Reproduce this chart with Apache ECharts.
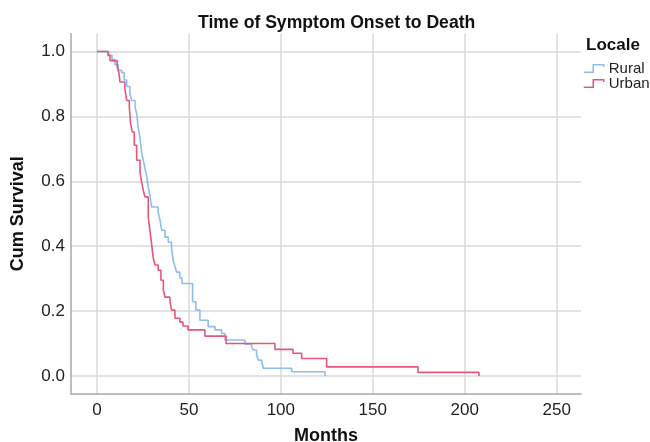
<!DOCTYPE html>
<html>
<head>
<meta charset="utf-8">
<script src="https://cdn.jsdelivr.net/npm/echarts@6/dist/echarts.min.js"></script>
<style>
    html, body {margin: 0; padding: 0; background: #fff;}
    #chart {width: 650px; height: 442px;}
</style>
</head>
<body>
<div id="chart"></div>
<script>
// 数据部分（从图上读出的生存曲线阶梯点）
var urbanMonths = [0, 6.0, 7.1, 11.0, 12.0, 12.5, 15.2, 16.2, 17.6, 18.3, 19.2, 20.3, 21.6, 23.4, 24.3, 25.2, 26.1, 27.9, 28.8, 29.7,
    30.5, 31.5, 33.3, 34.8, 36.1, 37.0, 39.7, 40.6, 42.4, 45.1, 46.8, 49.5, 58.7, 70.2, 96.8, 106.6, 111.3, 124.9, 174.6, 207.7];
var urbanSurv = [1.0, 0.988, 0.972, 0.954, 0.932, 0.906, 0.886, 0.849, 0.829, 0.778, 0.752, 0.711, 0.665, 0.629, 0.598, 0.572, 0.552, 0.490, 0.449, 0.408,
    0.367, 0.342, 0.326, 0.295, 0.265, 0.243, 0.229, 0.203, 0.178, 0.166, 0.154, 0.142, 0.123, 0.100, 0.082, 0.070, 0.054, 0.028, 0.011, 0.0];

var ruralMonths = [0, 6.5, 8.2, 9.8, 11.6, 13.4, 14.8, 16.2, 17.9, 18.9, 20.7, 21.6, 22.5, 23.4, 24.3, 25.2, 26.1, 27.0, 27.9, 28.8,
    29.7, 33.3, 34.3, 35.2, 37.0, 38.8, 40.6, 41.4, 42.4, 43.3, 45.1, 46.2, 52.0, 53.8, 56.0, 60.5, 64.2, 67.8, 69.6, 80.5,
    84.1, 85.0, 86.8, 87.7, 89.6, 90.4, 105.9, 124.0];
var ruralSurv = [1.0, 0.988, 0.975, 0.960, 0.942, 0.935, 0.912, 0.892, 0.870, 0.849, 0.829, 0.809, 0.763, 0.735, 0.689, 0.665, 0.640, 0.618, 0.582, 0.557,
    0.521, 0.505, 0.480, 0.449, 0.428, 0.412, 0.394, 0.357, 0.338, 0.320, 0.302, 0.285, 0.229, 0.203, 0.172, 0.152, 0.142, 0.131, 0.111, 0.098,
    0.089, 0.080, 0.065, 0.049, 0.043, 0.024, 0.013, 0.0];

var xTicks = [0, 50, 100, 150, 200, 250];
var yTicks = [0, 0.2, 0.4, 0.6, 0.8, 1.0];

var ruralColor = '#8fbcee';
var urbanColor = '#e8557a';
var fontName = 'Liberation Sans, Arial, sans-serif';
var stepIcon = 'path://M0,8L9,8L9,1L19,1L19,3';

// 把两个数组拼成 [x, y]
function pairUp(xs, ys) {
    var out = [];
    for (var i = 0; i < xs.length; i++) {
        out.push([xs[i], ys[i]]);
    }
    return out;
}

var chart = echarts.init(document.getElementById('chart'));

var option = {
    animation: false,
    backgroundColor: '#fff',
    title: [
        {
            text: 'Time of Symptom Onset to Death',
            left: 198, top: 14, padding: 0,
            textStyle: {fontFamily: fontName, fontSize: 17.6, fontWeight: 'bold', color: '#111'}
        },
        {
            text: 'Locale',
            left: 586, top: 37, padding: 0,
            textStyle: {fontFamily: fontName, fontSize: 17, fontWeight: 'bold', color: '#111'}
        }
    ],
    legend: {
        orient: 'vertical',
        left: 583, top: 61, padding: 0,
        itemWidth: 20, itemHeight: 8, itemGap: 0,
        textStyle: {fontFamily: fontName, fontSize: 15, lineHeight: 14, color: '#222'},
        data: [
            {name: 'Rural', icon: stepIcon, itemStyle: {color: 'transparent', borderColor: ruralColor, borderWidth: 1.5}},
            {name: 'Urban', icon: stepIcon, itemStyle: {color: 'transparent', borderColor: urbanColor, borderWidth: 1.5}}
        ]
    },
    grid: {left: 71, right: 69, top: 33.5, bottom: 48, containLabel: false, outerBoundsMode: 'none'},
    xAxis: {
        type: 'value',
        min: -14.1, max: 263.2,
        name: 'Months', nameLocation: 'middle', nameGap: 33,
        nameTextStyle: {fontFamily: fontName, fontSize: 18, fontWeight: 'bold', color: '#111'},
        axisLine: {show: true, onZero: false, lineStyle: {color: '#a9a9a9', width: 1.5}},
        axisTick: {show: false, customValues: xTicks},
        axisLabel: {customValues: xTicks, margin: 8, fontFamily: fontName, fontSize: 17, color: '#222'},
        splitLine: {show: true, lineStyle: {color: '#d9d9d9', width: 1.5}}
    },
    yAxis: {
        type: 'value',
        min: -0.0555, max: 1.0555,
        name: 'Cum Survival', nameLocation: 'middle', nameGap: 44,
        nameTextStyle: {fontFamily: fontName, fontSize: 18, fontWeight: 'bold', color: '#111'},
        axisLine: {show: true, onZero: false, lineStyle: {color: '#a9a9a9', width: 1.5}},
        axisTick: {show: false, customValues: yTicks},
        axisLabel: {
            customValues: yTicks, margin: 6, fontFamily: fontName, fontSize: 17, color: '#222',
            formatter: function (v) { return v.toFixed(1); }
        },
        splitLine: {show: true, lineStyle: {color: '#d9d9d9', width: 1.5}}
    },
    series: [
        {
            name: 'Rural', type: 'line', step: 'end',
            showSymbol: false, symbol: 'none',
            color: ruralColor,
            lineStyle: {color: ruralColor, width: 1.6},
            data: pairUp(ruralMonths, ruralSurv)
        },
        {
            name: 'Urban', type: 'line', step: 'end',
            showSymbol: false, symbol: 'none',
            color: urbanColor,
            lineStyle: {color: urbanColor, width: 1.6},
            data: pairUp(urbanMonths, urbanSurv)
        }
    ]
};

chart.setOption(option);
</script>
</body>
</html>
